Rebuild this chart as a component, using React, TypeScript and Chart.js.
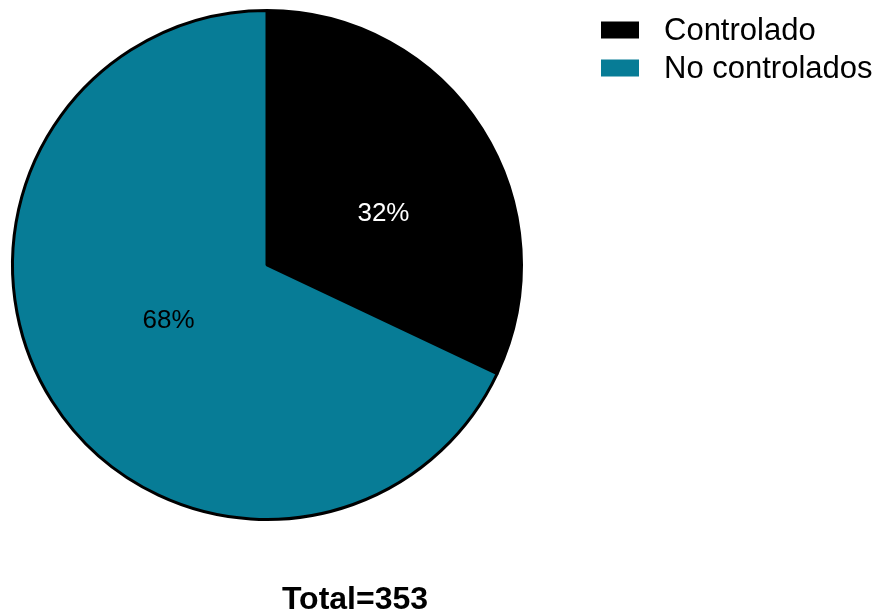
import React, { useEffect, useRef } from "react";
import { Chart, registerables } from "chart.js";

Chart.register(...registerables);

const categories: string[] = ["Controlado", "No controlados"];
const counts: number[] = [113, 240];
const percentLabels: string[] = ["32%", "68%"];
const sliceColors: string[] = ["#000000", "#077C96"];
const labelColors: string[] = ["#FFFFFF", "#000000"];
const totalLabel = "Total=353";

const FONT = '"Liberation Sans", Arial, sans-serif';

const overlayPlugin = {
  id: "overlay",
  afterDatasetsDraw(chart: any) {
    const ctx = chart.ctx;
    const meta = chart.getDatasetMeta(0);
    const nudges = [
      { da: (8.6 * Math.PI) / 180, rf: 0.5 },
      { da: (2.7 * Math.PI) / 180, rf: 0.445 },
    ];
    ctx.save();
    ctx.font = `26px ${FONT}`;
    ctx.textAlign = "center";
    ctx.textBaseline = "middle";
    meta.data.forEach((arc: any, i: number) => {
      const p = arc.getProps(["x", "y", "startAngle", "endAngle", "outerRadius"], true);
      const mid = (p.startAngle + p.endAngle) / 2 + nudges[i].da;
      const r = p.outerRadius * nudges[i].rf;
      ctx.fillStyle = labelColors[i];
      ctx.fillText(percentLabels[i], p.x + Math.cos(mid) * r, p.y + Math.sin(mid) * r);
    });
    ctx.restore();
  },
  afterDraw(chart: any) {
    const ctx = chart.ctx;
    ctx.save();
    // legend
    ctx.font = `31px ${FONT}`;
    ctx.textAlign = "left";
    ctx.textBaseline = "middle";
    categories.forEach((c, i) => {
      const y = 30 + i * 38;
      ctx.fillStyle = sliceColors[i];
      ctx.fillRect(601, y - 8.5, 38, 17);
      ctx.fillStyle = "#000000";
      ctx.fillText(c, 664, y + 1);
    });
    // total
    ctx.font = `bold 32px ${FONT}`;
    ctx.textAlign = "center";
    ctx.textBaseline = "alphabetic";
    ctx.fillStyle = "#000000";
    ctx.fillText(totalLabel, 355, 609);
    ctx.restore();
  },
};

export default function App() {
  const ref = useRef<HTMLCanvasElement | null>(null);
  useEffect(() => {
    if (!ref.current) return;
    const chart = new Chart(ref.current, {
      type: "pie",
      data: {
        labels: categories,
        datasets: [
          {
            data: counts,
            backgroundColor: sliceColors,
            borderColor: "#000000",
            borderWidth: 3,
          },
        ],
      },
      options: {
        responsive: false,
        animation: false,
        devicePixelRatio: 1,
        layout: { padding: { left: 11, top: 9, right: 354, bottom: 92 } },
        plugins: {
          legend: { display: false },
          tooltip: { enabled: false },
          title: { display: false },
        },
      },
      plugins: [overlayPlugin],
    });
    return () => chart.destroy();
  }, []);
  return (
    <div style={{ position: "absolute", left: 0, top: 0, width: 877, height: 613, background: "#fff" }}>
      <canvas ref={ref} width={877} height={613} style={{ display: "block" }} />
    </div>
  );
}
